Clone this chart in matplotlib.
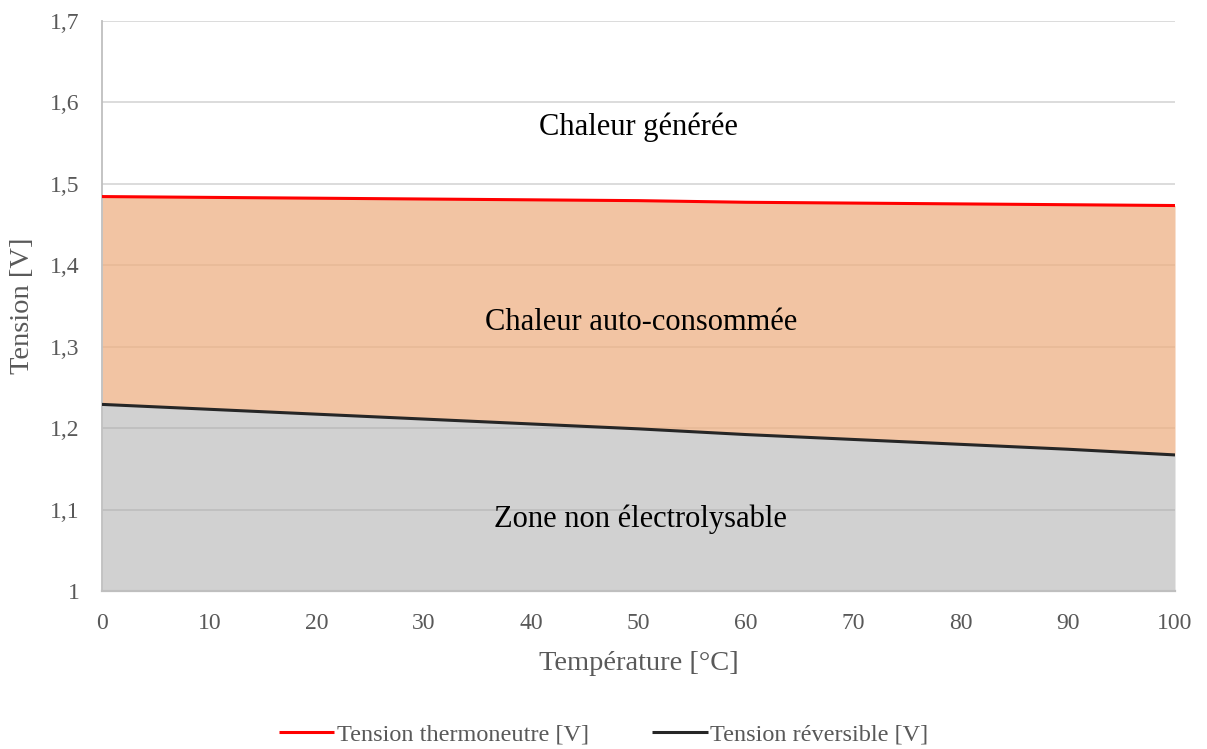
import matplotlib
matplotlib.use("Agg")
import matplotlib.pyplot as plt
from matplotlib.ticker import FixedLocator, FixedFormatter

plt.rcParams['font.family'] = ['Liberation Serif', 'DejaVu Serif']

# Temperature [°C] and voltages [V]
temperature = [0, 10, 20, 30, 40, 50, 60, 70, 80, 90, 100]
u_thermoneutral = [1.484, 1.483, 1.482, 1.481, 1.480, 1.479, 1.477, 1.476, 1.475, 1.474, 1.473]
u_reversible = [1.229, 1.223, 1.217, 1.211, 1.205, 1.199, 1.192, 1.186, 1.180, 1.174, 1.167]

y_ticks = [1.0, 1.1, 1.2, 1.3, 1.4, 1.5, 1.6, 1.7]
y_tick_labels = ["1", "1,1", "1,2", "1,3", "1,4", "1,5", "1,6", "1,7"]
x_ticks = [0, 10, 20, 30, 40, 50, 60, 70, 80, 90, 100]

zone_labels = ["Chaleur générée", "Chaleur auto-consommée", "Zone non électrolysable"]
series_labels = ["Tension thermoneutre [V]", "Tension réversible [V]"]

fig = plt.figure(figsize=(12.07, 7.49), dpi=100)
ax = fig.add_axes([0.0845, 0.2109, 0.889, 0.7617])

ax.set_xlim(0, 100)
ax.set_ylim(1.0, 1.7)

# Gridlines sit under the translucent areas
ax.yaxis.set_major_locator(FixedLocator(y_ticks))
ax.yaxis.set_major_formatter(FixedFormatter(y_tick_labels))
ax.xaxis.set_major_locator(FixedLocator(x_ticks))
ax.grid(axis='y', color='#d9d9d9', linewidth=1.3, zorder=0)
ax.set_axisbelow(True)

ax.fill_between(temperature, 1.0, u_reversible, color='#a5a5a5', alpha=0.5,
                linewidth=0, zorder=1)
ax.fill_between(temperature, u_reversible, u_thermoneutral, color='#eeaf81',
                alpha=0.73, linewidth=0, zorder=1)

ax.plot(temperature, u_thermoneutral, color='#ff0000', linewidth=2.2,
        label=series_labels[0], zorder=3, solid_capstyle='butt')
ax.plot(temperature, u_reversible, color='#262626', linewidth=2.2,
        label=series_labels[1], zorder=3, solid_capstyle='butt')

ax.text(50, 1.569, zone_labels[0], ha='center', va='center', fontsize=22, color='black')
ax.text(50.2, 1.329, zone_labels[1], ha='center', va='center', fontsize=22, color='black')
ax.text(50.2, 1.088, zone_labels[2], ha='center', va='center', fontsize=22, color='black')

for side in ('top', 'right'):
    ax.spines[side].set_visible(False)
ax.spines['left'].set_color('#bfbfbf')
ax.spines['left'].set_linewidth(1.3)
ax.spines['bottom'].set_color('#bfbfbf')
ax.spines['bottom'].set_linewidth(1.6)

ax.tick_params(axis='both', length=0, labelsize=17, labelcolor='#595959')
ax.tick_params(axis='y', pad=16)
ax.tick_params(axis='x', pad=16)

ax.set_xlabel("Température [°C]", fontsize=20.5, color='#595959', labelpad=12)
ax.set_ylabel("Tension [V]", fontsize=20.5, color='#595959', labelpad=11)

fig.legend(loc='center', bbox_to_anchor=(0.5, 0.02), ncol=2, frameon=False,
           fontsize=17.5, handlelength=2.3, handletextpad=0.1, columnspacing=2.6,
           labelcolor='#595959')

fig.savefig("out.png", dpi=100)
